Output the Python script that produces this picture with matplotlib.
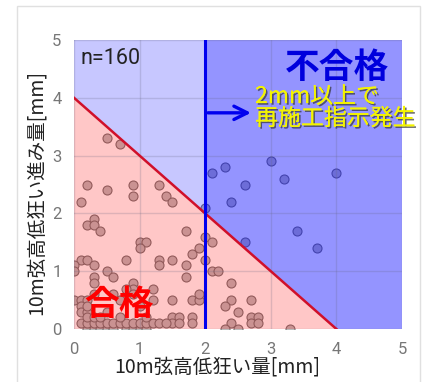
import numpy as np
import matplotlib
matplotlib.use("Agg")
from matplotlib import pyplot as plt
from matplotlib import patheffects as pe
from matplotlib.patches import Polygon, Rectangle

plt.rcParams['font.family'] = ['Noto Sans CJK JP', 'DejaVu Sans']

# Data
n_label = "n=160"
limit_x = 2.0      # re-work threshold [mm]
limit_sum = 4.0    # x + y boundary
ticks = [0, 1, 2, 3, 4, 5]

pts_x = [0.5, 0.7, 0.2, 0.5, 0.9, 0.9, 0.1, 1.3, 1.4, 1.5,
         0.3, 0.2, 0.3, 0.4, 1.7, 1.0, 1.1, 1.0,
         0.1, 0.2, 0.0, 0.0, 0.3, 0.8, 1.3, 1.3, 1.5, 1.7, 1.8, 1.9, 2.0, 2.0,
         2.1, 2.1, 2.2, 2.4, 0.5, 0.6, 0.3, 0.3, 1.7, 0.9, 0.9, 0.8, 1.2,
         0.0, 0.1, 0.2, 0.1, 0.1, 0.2, 0.3, 0.6, 0.9, 1.0, 0.5, 0.7,
         1.5, 1.8, 1.9, 1.9, 1.8, 1.8, 1.5, 1.6, 1.5, 1.6,
         2.4, 2.7, 2.3, 2.5, 2.7, 2.8, 2.7, 2.8, 2.4, 2.3, 2.5, 3.3,
         0.2, 0.3, 0.4, 0.5, 0.6, 0.8, 0.9, 1.0, 1.1,
         0.1, 0.2, 0.3, 0.4, 0.5, 0.6, 0.7, 0.8, 0.9, 1.0, 1.1, 1.2, 1.3, 1.4,
         0.2, 0.3, 0.4, 0.2, 0.7, 1.1, 1.2,
         2.1, 2.3, 3.0, 2.6, 3.2, 4.0, 2.4, 2.0, 3.4, 2.6, 3.7]
pts_y = [3.3, 3.2, 2.5, 2.4, 2.5, 2.3, 2.2, 2.5, 2.3, 2.2,
         1.9, 1.8, 1.8, 1.7, 1.7, 1.5, 1.5, 1.4,
         1.2, 1.2, 1.1, 1.0, 1.1, 1.2, 1.2, 1.1, 1.2, 1.1, 1.3, 1.4, 1.6, 1.2,
         1.5, 1.0, 1.0, 0.8, 1.0, 0.9, 0.9, 0.8, 0.9, 0.8, 0.7, 0.7, 0.7,
         0.5, 0.5, 0.5, 0.4, 0.3, 0.3, 0.6, 0.6, 0.6, 0.4, 0.3, 0.5,
         0.5, 0.5, 0.5, 0.6, 0.2, 0.1, 0.2, 0.2, 0.1, 0.1,
         0.5, 0.5, 0.4, 0.3, 0.2, 0.2, 0.1, 0.1, 0.1, 0.0, 0.0, 0.0,
         0.0, 0.0, 0.0, 0.0, 0.0, 0.0, 0.0, 0.0, 0.0,
         0.1, 0.1, 0.1, 0.1, 0.1, 0.1, 0.1, 0.1, 0.1, 0.1, 0.1, 0.1, 0.1, 0.1,
         0.2, 0.2, 0.2, 0.4, 0.2, 0.2, 0.5,
         2.7, 2.8, 2.9, 2.5, 2.6, 2.7, 2.2, 2.1, 1.7, 1.5, 1.4]

fig = plt.figure(figsize=(4.42, 3.82), dpi=100)
fig.patches.append(Rectangle((17 / 442, -0.01), 403 / 442, 1 - 6 / 382 + 0.01,
                             transform=fig.transFigure, fill=False,
                             edgecolor="#e0e0e0", linewidth=1))
ax = fig.add_axes([74 / 442, 1 - 329 / 382, 328 / 442, 289 / 382])
ax.set_xlim(0, 5)
ax.set_ylim(0, 5)

# points first, regions drawn over them
ax.scatter(pts_x, pts_y, s=42, color="#bcbcbc", edgecolor="#747474",
           linewidth=0.8, zorder=1)

ax.add_patch(Polygon([(0, 0), (0, limit_sum), (limit_sum, 0)], closed=True,
                     facecolor=(1, 0, 0, 0.22), edgecolor="none", zorder=2))
ax.add_patch(Polygon([(0, limit_sum), (0, 5), (limit_x, 5),
                      (limit_x, limit_sum - limit_x)], closed=True,
                     facecolor=(0, 0, 1, 0.22), edgecolor="none", zorder=2))
ax.add_patch(Polygon([(limit_x, limit_sum - limit_x), (limit_x, 5), (5, 5),
                      (5, 0), (limit_sum, 0)], closed=True,
                     facecolor=(0, 0, 1, 0.42), edgecolor="none", zorder=2))

ax.set_xticks(ticks)
ax.set_yticks(ticks)
ax.grid(True, color=(0.4, 0.4, 0.5), alpha=0.22, linewidth=1, zorder=3)
ax.set_axisbelow(False)
for s in ax.spines.values():
    s.set_visible(False)
ax.tick_params(length=0, labelsize=12, labelcolor="#777777", pad=9)
for lab in ax.get_xticklabels() + ax.get_yticklabels():
    lab.set_family(['Roboto', 'DejaVu Sans'])

ax.plot([0, limit_sum], [limit_sum, 0], color="#d0102a", linewidth=1.8, zorder=4)
ax.plot([limit_x, limit_x], [0, 5], color="#0000ee", linewidth=2.2, zorder=4)
ax.annotate("", xy=(2.74, 3.74), xytext=(2.0, 3.74),
            arrowprops=dict(arrowstyle="->", color="#0000ee", lw=2.4,
                            mutation_scale=24), zorder=5)

ax.text(0.1, 4.68, n_label, fontsize=15.5, color="#222222",
        family=['Roboto', 'DejaVu Sans'], va="center", zorder=5)
ax.text(4.8, 4.53, "不合格", fontsize=25, fontweight="bold", color="#0000dd",
        ha="right", va="center", zorder=5)
shadow = [pe.withSimplePatchShadow(offset=(1.2, -1.2), shadow_rgbFace="#333333",
                                   alpha=0.7), pe.Normal()]
ax.text(2.76, 3.83, "2mm以上で\n再施工指示発生", fontsize=16.5, color="#f4f400",
        ha="left", va="center", linespacing=0.95, zorder=5, path_effects=shadow)
ax.text(0.69, 0.42, "合格", fontsize=25, fontweight="bold", color="#ff0000",
        ha="center", va="center", zorder=5)

ax.set_xlabel("10m弦高低狂い量[mm]", fontsize=14, color="#222222", labelpad=0,
              x=0.436)
ax.set_ylabel("10m弦高低狂い進み量[mm]", fontsize=14, color="#222222", labelpad=4,
              y=0.474)

fig.savefig("out.png", dpi=100)
